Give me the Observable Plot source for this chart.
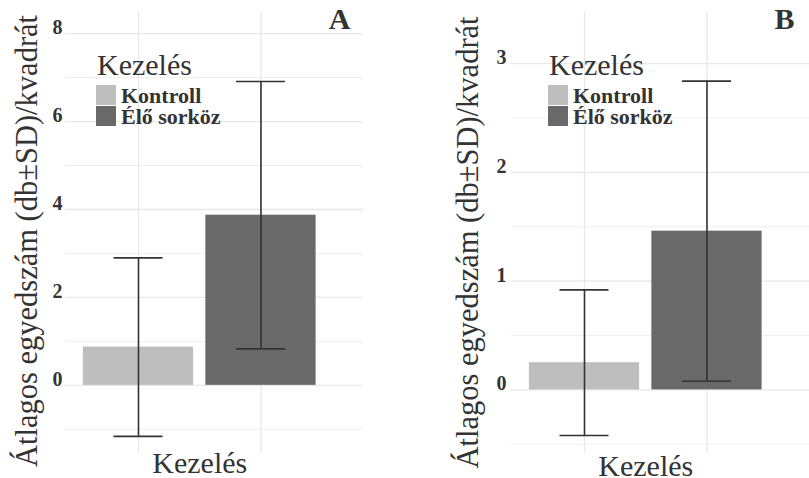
<!DOCTYPE html>
<html>
<head>
<meta charset="utf-8">
<script src="https://cdn.jsdelivr.net/npm/d3@7"></script>
<script src="https://cdn.jsdelivr.net/npm/@observablehq/plot@0.6"></script>
<style>
  html, body { margin: 0; padding: 0; background: #ffffff; }
  #chart { position: relative; width: 809px; height: 478px; overflow: hidden; background: #ffffff; }
  #chart svg { position: absolute; top: 0; }
</style>
</head>
<body>
<div id="chart"></div>
<script>
// ---- data ----
const categories = ["Kontroll", "Élő sorköz"];
const meansA = [0.87, 3.87];
const sdsA = [2.03, 3.04];
const meansB = [0.25, 1.46];
const sdsB = [0.67, 1.38];
const majorTicksA = [0, 2, 4, 6, 8];
const minorTicksA = [-1, 1, 3, 5, 7];
const majorTicksB = [0, 1, 2, 3];
const minorTicksB = [-0.5, 0.5, 1.5, 2.5];
const yTitle = "Átlagos egyedszám (db±SD)/kvadrát";
const xTitle = "Kezelés";
const legendTitle = "Kezelés";
const panelLetters = ["A", "B"];
const colors = ["#bebebe", "#696969"];

const FONT = "'Liberation Serif', 'Times New Roman', Times, serif";
const TEXT = "#333333";

function makePanel(opts) {
  const rows = categories.map((c, k) => ({
    cat: c, i: k + 1, mean: opts.means[k], lo: opts.means[k] - opts.sds[k], hi: opts.means[k] + opts.sds[k]
  }));
  const svg = Plot.plot({
    width: opts.width,
    height: 478,
    marginLeft: opts.marginLeft,
    marginRight: opts.marginRight,
    marginTop: 12,
    marginBottom: 25,
    style: { fontFamily: FONT, background: "transparent", color: TEXT, overflow: "visible" },
    x: { type: "linear", domain: [0.404, 2.837], axis: null },
    y: { domain: opts.yDomain, axis: null },
    color: { domain: categories, range: colors },
    marks: [
      Plot.ruleY(opts.minor, { stroke: "#efefef", strokeWidth: 1 }),
      Plot.ruleY(opts.major, { stroke: "#e8e8e8", strokeWidth: 1.3 }),
      Plot.ruleX([1, 2], { stroke: "#e8e8e8", strokeWidth: 1.3 }),
      Plot.rectY(rows, { x1: d => d.i - 0.45, x2: d => d.i + 0.45, y1: 0, y2: "mean", fill: "cat" }),
      Plot.ruleX(rows, { x: "i", y1: "lo", y2: "hi", stroke: "#333333", strokeWidth: 1.6 }),
      Plot.ruleY(rows, { y: "hi", x1: d => d.i - 0.2, x2: d => d.i + 0.2, stroke: "#333333", strokeWidth: 1.6 }),
      Plot.ruleY(rows, { y: "lo", x1: d => d.i - 0.2, x2: d => d.i + 0.2, stroke: "#333333", strokeWidth: 1.6 }),
      Plot.text(opts.major, {
        y: d => d, text: d => String(d), frameAnchor: "left", textAnchor: "end", lineAnchor: "middle",
        dx: -opts.tickPadding, dy: -6, fontSize: 20, fontWeight: "bold", fill: TEXT
      }),
      Plot.text([yTitle], {
        text: d => d, frameAnchor: "left", textAnchor: "middle", lineAnchor: "middle",
        rotate: -90, dx: opts.yTitleDx, dy: opts.yTitleDy,
        fontSize: 30.5, fill: TEXT
      }),
      Plot.text([xTitle], {
        x: () => 1.5, text: d => d, frameAnchor: "bottom", textAnchor: "middle", lineAnchor: "middle",
        dy: opts.xTitleDy, fontSize: 30, fill: TEXT
      }),
      Plot.text([opts.letter], {
        text: d => d, frameAnchor: "top-right", textAnchor: "middle", lineAnchor: "middle",
        dx: opts.letterDx, dy: 6.4, fontSize: 30, fontWeight: "bold", fill: TEXT
      })
    ]
  });
  svg.style.left = opts.left + "px";
  // legend inside the panel
  const g = d3.select(svg).append("g")
    .attr("font-family", FONT).attr("text-anchor", "start");
  g.append("text").attr("x", opts.legendX + 1).attr("y", 75)
    .attr("font-size", 30).attr("fill", TEXT).text(legendTitle);
  categories.forEach((c, k) => {
    g.append("rect").attr("x", opts.legendX).attr("y", 85 + k * 21)
      .attr("width", 20).attr("height", 20).attr("fill", colors[k]);
    g.append("text").attr("x", opts.legendX + 25).attr("y", 103 + k * 21)
      .attr("font-size", 22).attr("font-weight", "bold").attr("fill", TEXT).text(c);
  });
  return svg;
}

const chart = document.getElementById("chart");
chart.appendChild(makePanel({
  means: meansA, sds: sdsA, major: majorTicksA, minor: minorTicksA,
  yDomain: [-1.55, 8.48], width: 404, left: 0, marginLeft: 65, marginRight: 41,
  tickPadding: 3, yTitleDx: -38.6, yTitleDy: 8, xTitleDy: 9.4, letter: panelLetters[0],
  letterDx: -24, legendX: 96
}));
chart.appendChild(makePanel({
  means: meansB, sds: sdsB, major: majorTicksB, minor: minorTicksB,
  yDomain: [-0.585, 3.471], width: 405, left: 404, marginLeft: 107, marginRight: 0,
  tickPadding: 5, yTitleDx: -43.6, yTitleDy: 9.5, xTitleDy: 12.4, letter: panelLetters[1],
  letterDx: -25, legendX: 144
}));
</script>
</body>
</html>
